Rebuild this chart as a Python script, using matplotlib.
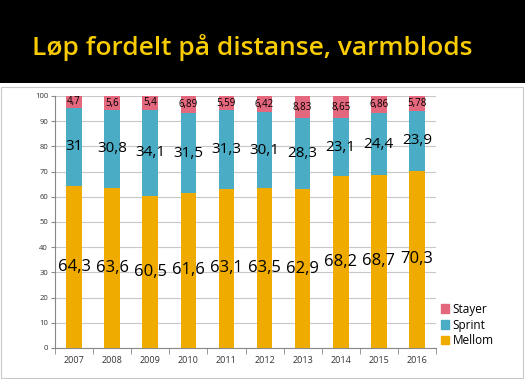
import matplotlib
matplotlib.use("Agg")
import matplotlib.pyplot as plt
from matplotlib.patches import Rectangle, Patch
import numpy as np

plt.rcParams['font.family'] = ['Open Sans', 'DejaVu Sans']

years = ["2007", "2008", "2009", "2010", "2011", "2012", "2013", "2014", "2015", "2016"]
mellom = [64.3, 63.6, 60.5, 61.6, 63.1, 63.5, 62.9, 68.2, 68.7, 70.3]
sprint = [31, 30.8, 34.1, 31.5, 31.3, 30.1, 28.3, 23.1, 24.4, 23.9]
stayer = [4.7, 5.6, 5.4, 6.89, 5.59, 6.42, 8.83, 8.65, 6.86, 5.78]
mellom_lbl = ["64,3", "63,6", "60,5", "61,6", "63,1", "63,5", "62,9", "68,2", "68,7", "70,3"]
sprint_lbl = ["31", "30,8", "34,1", "31,5", "31,3", "30,1", "28,3", "23,1", "24,4", "23,9"]
stayer_lbl = ["4,7", "5,6", "5,4", "6,89", "5,59", "6,42", "8,83", "8,65", "6,86", "5,78"]
title = "Løp fordelt på distanse, varmblods"

c_mellom = "#F0AB00"
c_sprint = "#4BACC6"
c_stayer = "#E3677D"

fig = plt.figure(figsize=(5.25, 3.79), dpi=100)
fig.patch.set_facecolor("white")

# Title band
fig.patches.append(Rectangle((0, 1 - 83/379), 1, 83/379, transform=fig.transFigure,
                             facecolor="black", edgecolor="none", zorder=0))
fig.patches.append(Rectangle((0.002, 0.002), 0.994, 1 - 87/379 - 0.002, transform=fig.transFigure,
                             facecolor="none", edgecolor="#C8C8C8", linewidth=0.8, zorder=0))
fig.text(32/525, 1 - 48/379, title, color="#F8CC00", fontsize=19, fontweight="semibold",
         ha="left", va="center")

ax = fig.add_axes([55/525, 1 - 348/379, (436 - 55)/525, (348 - 96)/379])
x = np.arange(len(years))
w = 0.41
m = np.array(mellom)
s = np.array(sprint)
st = np.array(stayer)
ax.bar(x, m, w, color=c_mellom, label="Mellom", zorder=3)
ax.bar(x, s, w, bottom=m, color=c_sprint, label="Sprint", zorder=3)
ax.bar(x, st, w, bottom=m + s, color=c_stayer, label="Stayer", zorder=3)

for i in range(len(years)):
    ax.text(x[i], m[i] / 2, mellom_lbl[i], ha="center", va="center", fontsize=12, color="black", zorder=4)
    ax.text(x[i], m[i] + s[i] / 2, sprint_lbl[i], ha="center", va="center", fontsize=11, color="black", zorder=4)
    ax.text(x[i], m[i] + s[i] + st[i] / 2, stayer_lbl[i], ha="center", va="center", fontsize=7, color="black", zorder=4)

ax.set_xlim(-0.5, len(years) - 0.5)
ax.set_ylim(0, 100)
ax.set_yticks(np.arange(0, 101, 10))
ax.tick_params(axis="y", labelsize=5.5, length=3, color="#888888", labelcolor="#333333", pad=2)
ax.set_xticks(x)
ax.set_xticklabels(years)
ax.tick_params(axis="x", which="major", length=0, labelsize=6.5, labelcolor="#333333", pad=6)
ax.set_xticks(np.arange(-0.5, len(years), 1), minor=True)
ax.tick_params(axis="x", which="minor", length=4, color="#888888")
ax.yaxis.grid(True, color="#C8C8C8", linewidth=0.8, zorder=0)
ax.set_axisbelow(True)
for sp in ["top", "right"]:
    ax.spines[sp].set_visible(False)
ax.spines["left"].set_color("#888888")
ax.spines["bottom"].set_color("#888888")
ax.spines["left"].set_linewidth(0.8)
ax.spines["bottom"].set_linewidth(0.8)

handles = [Patch(color=c_stayer), Patch(color=c_sprint), Patch(color=c_mellom)]
fig.legend(handles, ["Stayer", "Sprint", "Mellom"], loc="center left",
           bbox_to_anchor=(430/525, 1 - 325/379), frameon=False, fontsize=8.5,
           handlelength=0.7, handleheight=0.7, handletextpad=0.3, labelspacing=0.25)

fig.savefig("out.png", dpi=100)
